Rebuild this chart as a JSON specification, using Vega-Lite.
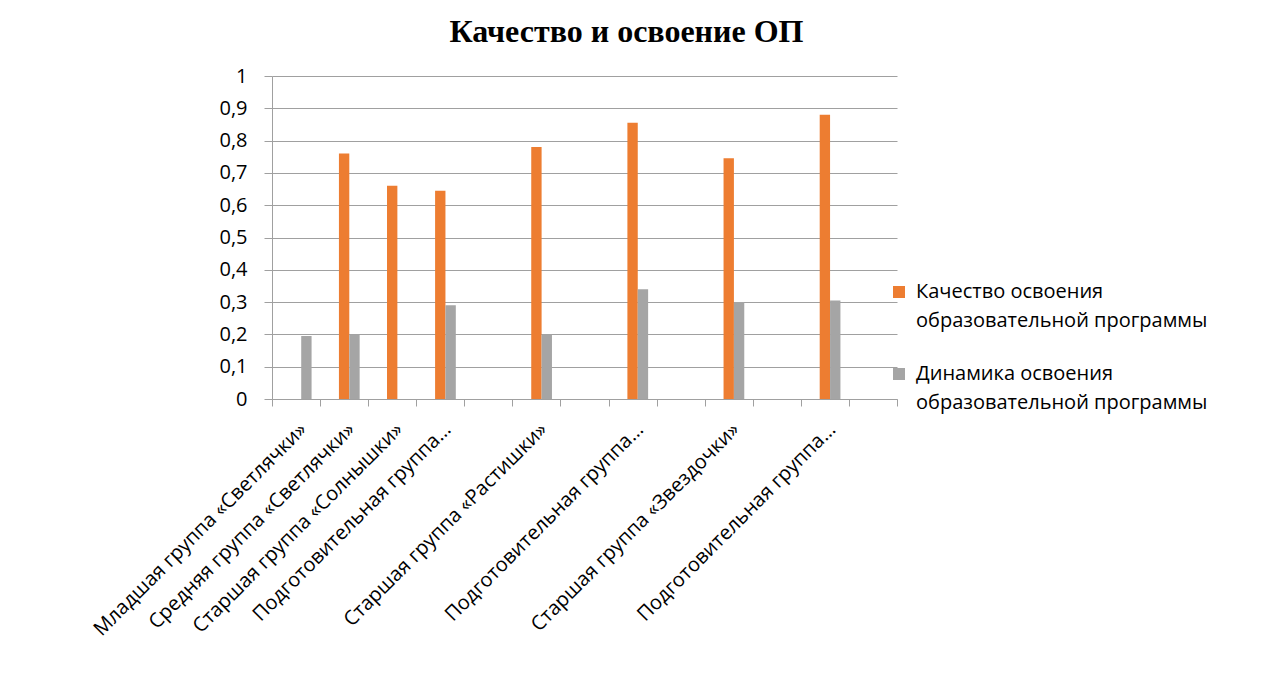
{
  "$schema": "https://vega.github.io/schema/vega-lite/v6.json",
  "width": 625,
  "height": 323,
  "autosize": {"type": "none"},
  "padding": {"left": 272, "top": 76, "right": 375, "bottom": 276},
  "background": "white",
  "title": {
    "text": "Качество и освоение ОП",
    "font": "Liberation Serif",
    "fontSize": 32,
    "fontWeight": "bold",
    "color": "#000000",
    "anchor": "middle",
    "frame": "group",
    "offset": 17,
    "dx": 42
  },
  "data": {
    "values": [
      {"group": "Младшая группа «Светлячки»", "series": "Динамика освоения образовательной программы", "value": 0.195},
      {"group": "Средняя группа «Светлячки»", "series": "Качество  освоения образовательной программы", "value": 0.76},
      {"group": "Средняя группа «Светлячки»", "series": "Динамика освоения образовательной программы", "value": 0.2},
      {"group": "Старшая группа «Солнышки»", "series": "Качество  освоения образовательной программы", "value": 0.66},
      {"group": "Подготовительная группа «Солнышки»", "series": "Качество  освоения образовательной программы", "value": 0.645},
      {"group": "Подготовительная группа «Солнышки»", "series": "Динамика освоения образовательной программы", "value": 0.29},
      {"group": "Старшая группа «Растишки»", "series": "Качество  освоения образовательной программы", "value": 0.78},
      {"group": "Старшая группа «Растишки»", "series": "Динамика освоения образовательной программы", "value": 0.2},
      {"group": "Подготовительная группа «Растишки»", "series": "Качество  освоения образовательной программы", "value": 0.855},
      {"group": "Подготовительная группа «Растишки»", "series": "Динамика освоения образовательной программы", "value": 0.34},
      {"group": "Старшая группа «Звездочки»", "series": "Качество  освоения образовательной программы", "value": 0.745},
      {"group": "Старшая группа «Звездочки»", "series": "Динамика освоения образовательной программы", "value": 0.3},
      {"group": "Подготовительная группа «Звездочки»", "series": "Качество  освоения образовательной программы", "value": 0.88},
      {"group": "Подготовительная группа «Звездочки»", "series": "Динамика освоения образовательной программы", "value": 0.305}
    ]
  },
  "mark": {"type": "bar"},
  "encoding": {
    "x": {
      "field": "group",
      "type": "nominal",
      "sort": null,
      "title": null,
      "scale": {
        "domain": [
          "Младшая группа «Светлячки»",
          "Средняя группа «Светлячки»",
          "Старшая группа «Солнышки»",
          "Подготовительная группа «Солнышки»",
          " ",
          "Старшая группа «Растишки»",
          "  ",
          "Подготовительная группа «Растишки»",
          "   ",
          "Старшая группа «Звездочки»",
          "    ",
          "Подготовительная группа «Звездочки»",
          "     "
        ],
        "paddingInner": 0,
        "paddingOuter": 0
      },
      "axis": {
        "labelAngle": -45,
        "labelFont": "Open Sans",
        "labelFontSize": 20,
        "labelColor": "#000000",
        "labelExpr": "indexof('' + datum.label, 'Подготовительная') == 0 ? 'Подготовительная группа…' : datum.label",
        "labelLimit": 400,
        "tickBand": "extent",
        "tickSize": 7,
        "tickColor": "#A0A0A0",
        "domainColor": "#A0A0A0",
        "labelPadding": 13,
        "grid": false,
        "labelOverlap": false
      }
    },
    "xOffset": {
      "field": "series",
      "type": "nominal",
      "scale": {
        "domain": ["_", "Качество  освоения образовательной программы", "Динамика освоения образовательной программы"],
        "paddingInner": 0,
        "paddingOuter": 0.82
      }
    },
    "y": {
      "field": "value",
      "type": "quantitative",
      "title": null,
      "stack": null,
      "scale": {"domain": [0, 1], "nice": false},
      "axis": {
        "values": [0, 0.1, 0.2, 0.3, 0.4, 0.5, 0.6, 0.7, 0.8, 0.9, 1],
        "format": ".1~f",
        "labelExpr": "replace('' + datum.label, '.', ',')",
        "labelFont": "Open Sans",
        "labelFontSize": 20,
        "labelColor": "#000000",
        "labelPadding": 17,
        "tickSize": 8,
        "tickColor": "#A0A0A0",
        "domainColor": "#A0A0A0",
        "gridColor": "#A0A0A0",
        "gridOpacity": 1
      }
    },
    "color": {
      "field": "series",
      "type": "nominal",
      "scale": {
        "domain": ["Качество  освоения образовательной программы", "Динамика освоения образовательной программы"],
        "range": ["#ED7D31", "#A5A5A5"]
      },
      "legend": {
        "title": null,
        "orient": "none",
        "legendX": 617,
        "legendY": 206,
        "symbolType": "square",
        "symbolSize": 144,
        "symbolStrokeWidth": 0,
        "symbolOpacity": 1,
        "labelFont": "Open Sans",
        "labelFontSize": 20,
        "labelColor": "#000000",
        "labelLimit": 500,
        "labelOffset": 7,
        "rowPadding": 33,
        "labelExpr": "indexof('' + datum.label, 'Качество') == 0 ? ['Качество  освоения', 'образовательной программы'] : ['Динамика освоения', 'образовательной программы']"
      }
    }
  },
  "config": {
    "view": {"stroke": null},
    "axis": {"domainWidth": 1, "tickWidth": 1, "gridWidth": 1},
    "style": {"guide-label": {"lineHeight": 28.5}}
  }
}
